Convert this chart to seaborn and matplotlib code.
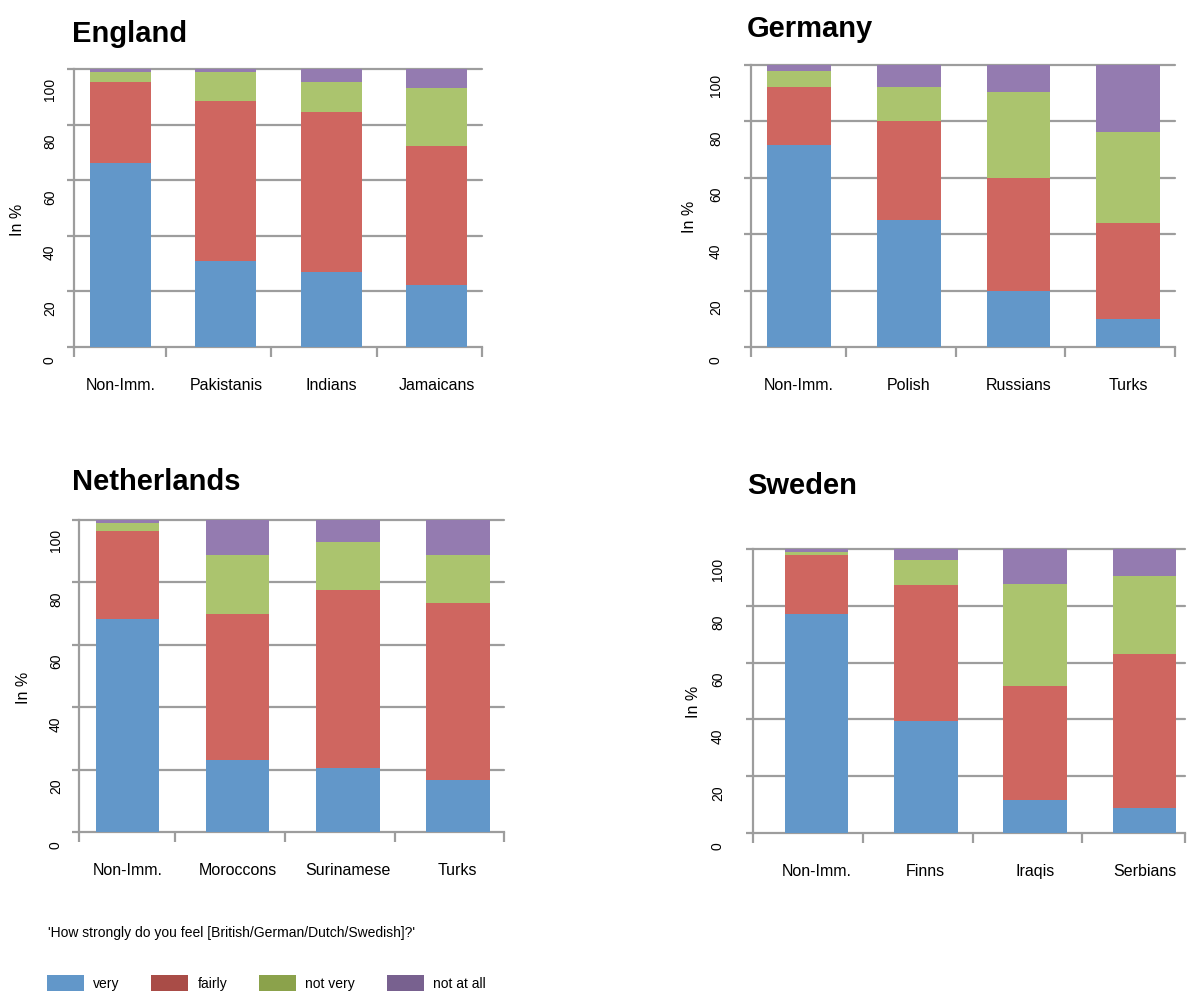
import numpy as np
import matplotlib
matplotlib.use("Agg")
import matplotlib.pyplot as plt
import seaborn as sns
from matplotlib.patches import Patch
from matplotlib.transforms import offset_copy

sns.set_theme(style="white")
plt.rcParams["font.family"] = ["Liberation Sans", "DejaVu Sans"]
plt.rcParams["text.color"] = "black"

# Data (shares in %)
levels = ["very", "fairly", "not very", "not at all"]
bar_colors = ["#6297c9", "#cf6660", "#abc46e", "#947bb0"]
legend_colors = ["#6297c9", "#a94c47", "#8ba24b", "#78618f"]
yticks = [0, 20, 40, 60, 80, 100]
ytick_labels = ["0", "20", "40", "60", "80", "100"]

england_groups = ["Non-Imm.", "Pakistanis", "Indians", "Jamaicans"]
england_very = [66.1, 30.9, 27.0, 22.2]
england_fairly = [29.2, 57.6, 57.5, 50.1]
england_not_very = [3.6, 10.4, 10.8, 20.9]
england_not_at_all = [1.1, 1.1, 4.7, 6.8]

germany_groups = ["Non-Imm.", "Polish", "Russians", "Turks"]
germany_very = [71.5, 45.1, 19.7, 9.9]
germany_fairly = [20.6, 35.1, 40.2, 34.0]
germany_not_very = [5.8, 11.9, 30.5, 32.4]
germany_not_at_all = [2.1, 7.9, 9.6, 23.7]

netherlands_groups = ["Non-Imm.", "Moroccons", "Surinamese", "Turks"]
netherlands_very = [68.2, 23.0, 20.4, 16.8]
netherlands_fairly = [28.3, 46.8, 57.1, 56.6]
netherlands_not_very = [2.5, 18.9, 15.4, 15.3]
netherlands_not_at_all = [1.0, 11.3, 7.1, 11.3]

sweden_groups = ["Non-Imm.", "Finns", "Iraqis", "Serbians"]
sweden_very = [77.2, 39.4, 11.5, 8.7]
sweden_fairly = [20.8, 48.0, 40.3, 54.4]
sweden_not_very = [1.1, 8.8, 36.0, 27.5]
sweden_not_at_all = [0.9, 3.8, 12.2, 9.4]

question = "'How strongly do you feel [British/German/Dutch/Swedish]?'"

W, H = 1187, 996
gray = "#9d9d9d"
fig = plt.figure(figsize=(W / 100, H / 100), dpi=100)

# layout in pixels: axes box (l, t, r, b), xlim, title baseline, ylabel centre, ytick label gap
panels = [
    ("England", england_groups,
     [england_very, england_fairly, england_not_very, england_not_at_all],
     (74, 69, 482, 347), (-0.44, 3.43), (72, 42), (18, 220), 17),
    ("Germany", germany_groups,
     [germany_very, germany_fairly, germany_not_very, germany_not_at_all],
     (751, 65, 1175, 347), (-0.44, 3.43), (747, 37), (690, 217), 28),
    ("Netherlands", netherlands_groups,
     [netherlands_very, netherlands_fairly, netherlands_not_very, netherlands_not_at_all],
     (79, 520, 504, 832), (-0.44, 3.42), (72, 490), (23, 688), 16),
    ("Sweden", sweden_groups,
     [sweden_very, sweden_fairly, sweden_not_very, sweden_not_at_all],
     (753, 549, 1185, 833), (-0.58, 3.37), (747, 494), (693, 702), 28),
]

for title, groups, parts, box, xlim, tpos, ylpos, gap in panels:
    l, t, r, b = box
    ax = fig.add_axes([l / W, 1 - b / H, (r - l) / W, (b - t) / H])

    # stacked bars: draw cumulative totals from the top layer down
    cum = np.cumsum(np.array(parts), axis=0)
    for i in range(len(parts) - 1, -1, -1):
        sns.barplot(x=groups, y=cum[i], color=bar_colors[i], saturation=1,
                    width=0.58, errorbar=None, linewidth=0, zorder=2, ax=ax)

    ax.set_xlim(xlim)
    ax.set_ylim(0, 100)
    ax.set_xlabel("")
    ax.set_ylabel("")
    for s in ["top", "right"]:
        ax.spines[s].set_visible(False)
    for s in ["left", "bottom"]:
        ax.spines[s].set_color(gray)
        ax.spines[s].set_linewidth(1.6)
        ax.spines[s].set_zorder(1)
    for v in yticks[1:]:
        ax.axhline(v, color=gray, lw=1.6, zorder=1, clip_on=False)

    ax.set_yticks(yticks)
    ax.set_yticklabels([])
    ax.tick_params(axis="y", direction="out", length=5, width=1.6, color=gray, left=True)
    trans = offset_copy(ax.get_yaxis_transform(), fig=fig, x=-gap, y=-9, units="dots")
    for v, lab in zip(yticks, ytick_labels):
        ax.text(0, v, lab, transform=trans, rotation=90, ha="right", va="top",
                fontsize=10, color="black")

    ax.set_xticks(range(len(groups)))
    ax.set_xticklabels(groups, fontsize=11.5)
    ax.tick_params(axis="x", which="major", length=0, pad=22, labelcolor="black")
    ax.set_xticks([xlim[0], 0.43, 1.43, 2.43, xlim[1]], minor=True)
    ax.tick_params(axis="x", which="minor", direction="out", length=7, width=1.6,
                   color=gray, bottom=True)

    fig.text(tpos[0] / W, 1 - tpos[1] / H, title, fontsize=21, fontweight="bold",
             va="baseline", ha="left")
    fig.text(ylpos[0] / W, 1 - ylpos[1] / H, "In %", rotation=90, fontsize=11.5,
             ha="center", va="center")

fig.text(48 / W, 1 - 933 / H, question, fontsize=10, va="center", ha="left")

handles = [Patch(facecolor=c, edgecolor="none") for c in legend_colors]
fig.legend(handles, levels, loc="center left", bbox_to_anchor=(47 / W, 1 - 983 / H),
           ncol=4, frameon=False, handlelength=2.66, handleheight=1.3, handletextpad=0.65,
           columnspacing=2.3, borderpad=0, borderaxespad=0, fontsize=10)

fig.savefig("out.png", dpi=100)
